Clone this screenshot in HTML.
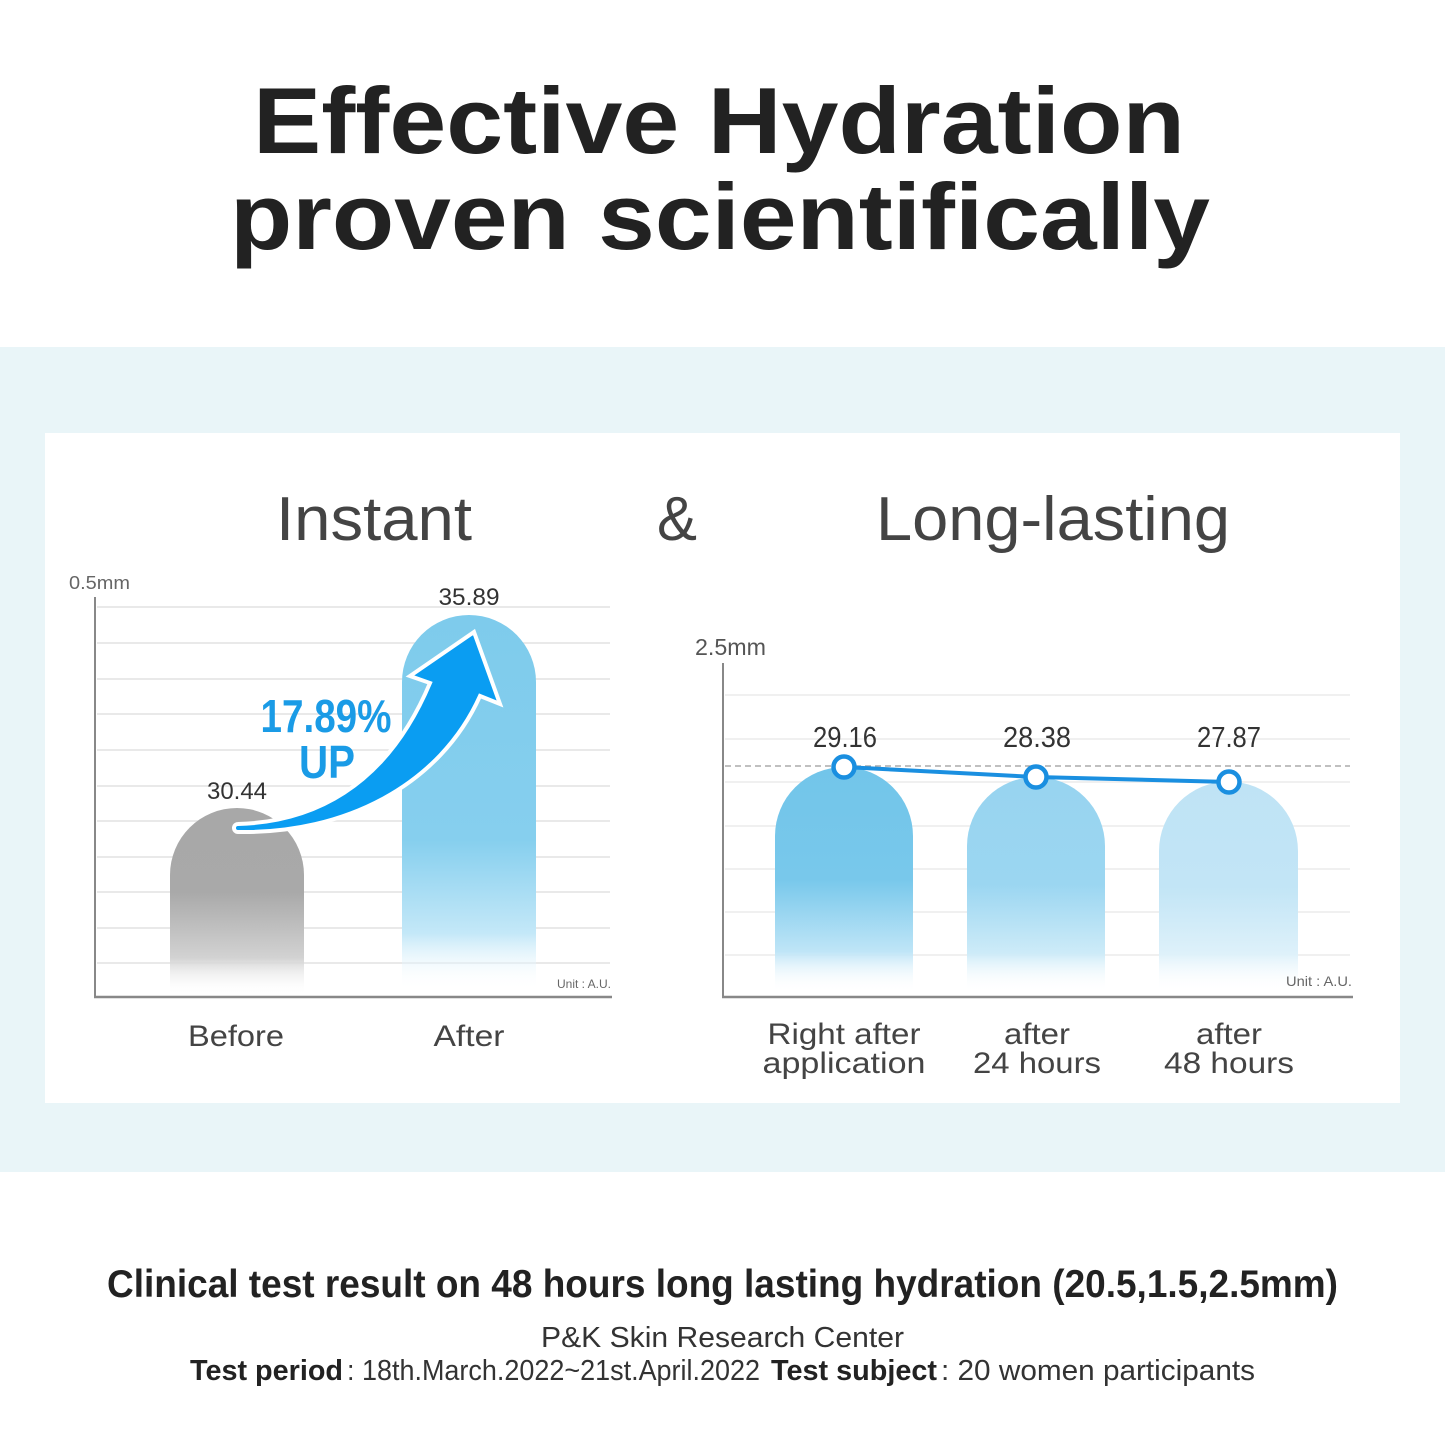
<!DOCTYPE html>
<html><head><meta charset="utf-8"><style>
html,body{margin:0;padding:0;background:#fff;}
svg{display:block;}
text{font-family:"Liberation Sans",sans-serif;}
</style></head><body>
<svg width="1445" height="1445" viewBox="0 0 1445 1445" xmlns="http://www.w3.org/2000/svg">
<defs>
<linearGradient id="gGray" gradientUnits="userSpaceOnUse" x1="0" y1="808" x2="0" y2="995">
<stop offset="0" stop-color="#a8a8a8"/>
<stop offset="0.45" stop-color="#a9a9a9"/>
<stop offset="0.8" stop-color="#d2d2d2"/>
<stop offset="1" stop-color="#ffffff" stop-opacity="0"/>
</linearGradient>
<linearGradient id="gAfter" gradientUnits="userSpaceOnUse" x1="0" y1="615" x2="0" y2="990">
<stop offset="0" stop-color="#7ecbec"/>
<stop offset="0.6" stop-color="#86cfee"/>
<stop offset="0.85" stop-color="#c4e8f8"/>
<stop offset="1" stop-color="#ffffff" stop-opacity="0"/>
</linearGradient>
<linearGradient id="gB1" gradientUnits="userSpaceOnUse" x1="0" y1="767" x2="0" y2="992">
<stop offset="0" stop-color="#72c5ea"/>
<stop offset="0.5" stop-color="#78c8eb"/>
<stop offset="0.82" stop-color="#bfe5f7"/>
<stop offset="1" stop-color="#ffffff" stop-opacity="0"/>
</linearGradient>
<linearGradient id="gB2" gradientUnits="userSpaceOnUse" x1="0" y1="777" x2="0" y2="992">
<stop offset="0" stop-color="#98d4f0"/>
<stop offset="0.5" stop-color="#9bd6f1"/>
<stop offset="0.82" stop-color="#cdebf8"/>
<stop offset="1" stop-color="#ffffff" stop-opacity="0"/>
</linearGradient>
<linearGradient id="gB3" gradientUnits="userSpaceOnUse" x1="0" y1="782" x2="0" y2="992">
<stop offset="0" stop-color="#bfe3f5"/>
<stop offset="0.5" stop-color="#c2e5f6"/>
<stop offset="0.82" stop-color="#def1fa"/>
<stop offset="1" stop-color="#ffffff" stop-opacity="0"/>
</linearGradient>
</defs>

<text x="719" y="153" font-size="94" font-weight="bold" fill="#222" text-anchor="middle" textLength="932" lengthAdjust="spacingAndGlyphs">Effective Hydration</text>
<text x="720" y="249" font-size="94" font-weight="bold" fill="#222" text-anchor="middle" textLength="980" lengthAdjust="spacingAndGlyphs">proven scientifically</text>

<rect x="0" y="347" width="1445" height="825" fill="#e9f5f8"/>
<rect x="45" y="433" width="1355" height="670" fill="#ffffff"/>

<text x="276" y="540" font-size="62" fill="#444" textLength="196" lengthAdjust="spacingAndGlyphs">Instant</text>
<text x="657" y="540" font-size="62" fill="#444" textLength="40" lengthAdjust="spacingAndGlyphs">&amp;</text>
<text x="876" y="540" font-size="62" fill="#444" textLength="354" lengthAdjust="spacingAndGlyphs">Long-lasting</text>

<g stroke="#e2e2e2" stroke-width="1.5">
<line x1="97" y1="607" x2="610" y2="607"/>
<line x1="97" y1="643" x2="610" y2="643"/>
<line x1="97" y1="679" x2="610" y2="679"/>
<line x1="97" y1="714" x2="610" y2="714"/>
<line x1="97" y1="750" x2="610" y2="750"/>
<line x1="97" y1="786" x2="610" y2="786"/>
<line x1="97" y1="821" x2="610" y2="821"/>
<line x1="97" y1="857" x2="610" y2="857"/>
<line x1="97" y1="892" x2="610" y2="892"/>
<line x1="97" y1="928" x2="610" y2="928"/>
<line x1="97" y1="963" x2="610" y2="963"/>
</g>
<path d="M170 995 L170 875 A67 67 0 0 1 304 875 L304 995 Z" fill="url(#gGray)"/>
<path d="M402 992 L402 682 A67 67 0 0 1 536 682 L536 992 Z" fill="url(#gAfter)"/>
<line x1="95" y1="597" x2="95" y2="998" stroke="#888" stroke-width="2"/>
<line x1="94" y1="997" x2="612" y2="997" stroke="#888" stroke-width="2.5"/>
<text x="69" y="589" font-size="18" fill="#666" textLength="61" lengthAdjust="spacingAndGlyphs">0.5mm</text>
<text x="469" y="605" font-size="24" fill="#333" text-anchor="middle" textLength="61" lengthAdjust="spacingAndGlyphs">35.89</text>
<text x="237" y="799" font-size="24" fill="#333" text-anchor="middle" textLength="60" lengthAdjust="spacingAndGlyphs">30.44</text>
<text x="557" y="988" font-size="12" fill="#666" textLength="54" lengthAdjust="spacingAndGlyphs">Unit : A.U.</text>

<path d="M238 824 C310 822 385 790 430 683 L410 676 L474 632 L500 704 L480 696 C440 785 345 834 238 832 A4 4 0 0 1 238 824 Z" fill="#0a9df2" stroke="#ffffff" stroke-width="4" stroke-linejoin="miter"/>
<text x="326" y="732" font-size="46" font-weight="bold" fill="#1a9be6" text-anchor="middle" textLength="131" lengthAdjust="spacingAndGlyphs">17.89%</text>
<text x="327" y="778" font-size="46" font-weight="bold" fill="#1a9be6" text-anchor="middle" textLength="56" lengthAdjust="spacingAndGlyphs">UP</text>

<text x="236" y="1046" font-size="30" fill="#444" text-anchor="middle" textLength="96" lengthAdjust="spacingAndGlyphs">Before</text>
<text x="469" y="1046" font-size="30" fill="#444" text-anchor="middle" textLength="71" lengthAdjust="spacingAndGlyphs">After</text>

<g stroke="#ececec" stroke-width="1.5">
<line x1="725" y1="695" x2="1350" y2="695"/>
<line x1="725" y1="739" x2="1350" y2="739"/>
<line x1="725" y1="782" x2="1350" y2="782"/>
<line x1="725" y1="826" x2="1350" y2="826"/>
<line x1="725" y1="869" x2="1350" y2="869"/>
<line x1="725" y1="912" x2="1350" y2="912"/>
<line x1="725" y1="955" x2="1350" y2="955"/>
</g>
<line x1="725" y1="766" x2="1350" y2="766" stroke="#9a9a9a" stroke-width="1.2" stroke-dasharray="6 4"/>
<path d="M775 992 L775 836 A69 69 0 0 1 913 836 L913 992 Z" fill="url(#gB1)"/>
<path d="M967 992 L967 846 A69 69 0 0 1 1105 846 L1105 992 Z" fill="url(#gB2)"/>
<path d="M1159 992 L1159 851 A69.5 69.5 0 0 1 1298 851 L1298 992 Z" fill="url(#gB3)"/>
<line x1="723" y1="663" x2="723" y2="998" stroke="#888" stroke-width="2"/>
<line x1="722" y1="997" x2="1353" y2="997" stroke="#888" stroke-width="2.5"/>
<polyline points="844,767 1036,777 1229,782" fill="none" stroke="#1a8fe0" stroke-width="4"/>
<g fill="#fff" stroke="#1a8fe0" stroke-width="4.5">
<circle cx="844" cy="767" r="10.5"/>
<circle cx="1036" cy="777" r="10.5"/>
<circle cx="1229" cy="782" r="10.5"/>
</g>
<text x="695" y="655" font-size="23" fill="#555" textLength="71" lengthAdjust="spacingAndGlyphs">2.5mm</text>
<text x="845" y="747" font-size="29" fill="#333" text-anchor="middle" textLength="64" lengthAdjust="spacingAndGlyphs">29.16</text>
<text x="1037" y="747" font-size="29" fill="#333" text-anchor="middle" textLength="68" lengthAdjust="spacingAndGlyphs">28.38</text>
<text x="1229" y="747" font-size="29" fill="#333" text-anchor="middle" textLength="64" lengthAdjust="spacingAndGlyphs">27.87</text>
<text x="1286" y="986" font-size="14" fill="#666" textLength="66" lengthAdjust="spacingAndGlyphs">Unit : A.U.</text>

<text x="844" y="1044" font-size="30" fill="#444" text-anchor="middle" textLength="153" lengthAdjust="spacingAndGlyphs">Right after</text>
<text x="844" y="1073" font-size="30" fill="#444" text-anchor="middle" textLength="163" lengthAdjust="spacingAndGlyphs">application</text>
<text x="1037" y="1044" font-size="30" fill="#444" text-anchor="middle" textLength="66" lengthAdjust="spacingAndGlyphs">after</text>
<text x="1037" y="1073" font-size="30" fill="#444" text-anchor="middle" textLength="128" lengthAdjust="spacingAndGlyphs">24 hours</text>
<text x="1229" y="1044" font-size="30" fill="#444" text-anchor="middle" textLength="66" lengthAdjust="spacingAndGlyphs">after</text>
<text x="1229" y="1073" font-size="30" fill="#444" text-anchor="middle" textLength="130" lengthAdjust="spacingAndGlyphs">48 hours</text>

<text x="107" y="1297" font-size="39" font-weight="bold" fill="#222" textLength="1231" lengthAdjust="spacingAndGlyphs">Clinical test result on 48 hours long lasting hydration (20.5,1.5,2.5mm)</text>
<text x="541" y="1347" font-size="29" fill="#333" textLength="363" lengthAdjust="spacingAndGlyphs">P&amp;K Skin Research Center</text>
<text x="190" y="1380" font-size="29" font-weight="bold" fill="#222" textLength="153" lengthAdjust="spacingAndGlyphs">Test period</text>
<text x="347" y="1380" font-size="29" fill="#333" textLength="413" lengthAdjust="spacingAndGlyphs">: 18th.March.2022~21st.April.2022</text>
<text x="771" y="1380" font-size="29" font-weight="bold" fill="#222" textLength="166" lengthAdjust="spacingAndGlyphs">Test subject</text>
<text x="941" y="1380" font-size="29" fill="#333" textLength="314" lengthAdjust="spacingAndGlyphs">: 20 women participants</text>
</svg>
</body></html>
